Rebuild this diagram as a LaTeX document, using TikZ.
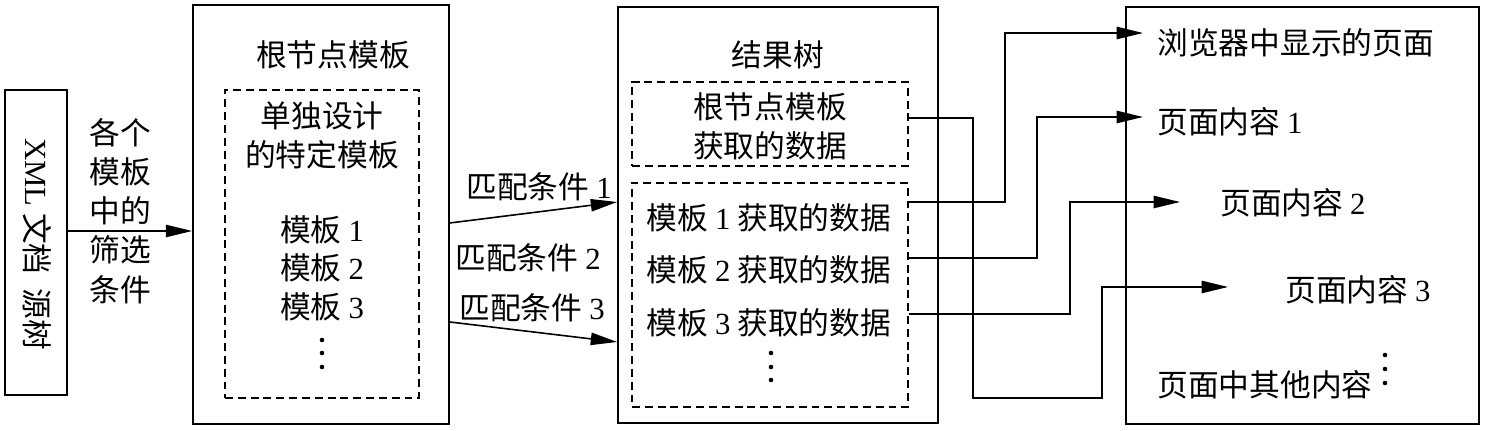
\documentclass[tikz,border=0pt]{standalone}
\usepackage{fontspec}
\setmainfont{Liberation Serif}
\newfontfamily\cjk{Noto Sans CJK SC}
\newcommand\rmnum[1]{{\rmfamily #1}}
\usetikzlibrary{arrows.meta,fit}

\begin{document}
\begin{tikzpicture}
[x=0.02cm,y=-0.02cm,
  boxdecorate/.style={draw,line width=1pt,inner sep=0pt},
  dashdecorate/.style={draw,line width=0.8pt,dash pattern=on 4.5pt off 2.8pt,inner sep=0pt},
  textdecorate/.style={inner sep=0pt,align=center,
    font=\fontsize{17.5}{22.3}\selectfont\cjk},
  linedecorate/.style={-{Triangle[length=15pt,width=7pt]},line width=0.9pt}]
\useasboundingbox (0,0) rectangle (1488,431);
%% boxes
\node (src) [boxdecorate,fit={(5,90) (67,395)}] {};
\node (root) [boxdecorate,fit={(193,5) (449,424)}] {};
\node (rootin) [dashdecorate,fit={(225,90) (419,398)}] {};
\node (result) [boxdecorate,fit={(618,7) (938,423)}] {};
\node (resA) [dashdecorate,fit={(632,82) (908,166)}] {};
\node (resB) [dashdecorate,fit={(632,183) (908,407)}] {};
\node (page) [boxdecorate,fit={(1126,7) (1479,424)}] {};
%% texts
\node (srctxt) [textdecorate,rotate=-90] at (37,244) {\rmnum{XML} 文档\ \ 源树};
\node (filter) [textdecorate] at (120,211) {各个\\模板\\中的\\筛选\\条件};
\node (roottitle) [textdecorate] at (333,55) {根节点模板};
\node (special) [textdecorate] at (322,135) {单独设计\\的特定模板};
\node (restitle) [textdecorate] at (778,55) {结果树};
\node (rootdata) [textdecorate] at (770,126) {根节点模板\\获取的数据};
\foreach \k/\ya/\yb in {1/230/218, 2/268/270, 3/307/323}
{
  \node (tpl\k) [textdecorate] at (322,\ya) {模板 \rmnum{\k}};
  \node (data\k) [textdecorate] at (769,\yb) {模板 \rmnum{\k} 获取的数据};
}
\foreach \y in {340,353,367}
  \fill (322,\y) circle (1.3pt);
\foreach \y in {353,367,380}
  \fill (771,\y) circle (1.3pt);
%% matching labels
\node (match1) [textdecorate] at (539,187) {匹配条件 \rmnum{1}};
\node (match2) [textdecorate] at (528,258) {匹配条件 \rmnum{2}};
\node (match3) [textdecorate] at (532,308) {匹配条件 \rmnum{3}};
%% page contents
\node (pg0) [textdecorate,anchor=west] at (1157,43) {浏览器中显示的页面};
\node (pg1) [textdecorate,anchor=west] at (1157,122) {页面内容 \rmnum{1}};
\node (pg2) [textdecorate,anchor=west] at (1220,203) {页面内容 \rmnum{2}};
\node (pg3) [textdecorate,anchor=west] at (1285,290) {页面内容 \rmnum{3}};
\node (pgo) [textdecorate,anchor=west] at (1157,385) {页面中其他内容};
\foreach \y in {355,369,383}
  \fill (1385,\y) circle (1.3pt);
\coordinate (tip0) at (1143,33);
\coordinate (tip1) at (1143,117);
\coordinate (tip2) at (1180,202);
\coordinate (tip3) at (1228,287);
%% edges
\draw[linedecorate] (src.east |- 0,231) -- (root.west |- 0,231);
\draw[linedecorate] (root.east |- 0,223) -- (result.west |- 0,202);
\draw[linedecorate] (root.east |- 0,322) -- (result.west |- 0,342);
\foreach \ya/\xb/\tip in {202/1005/tip0, 258/1037/tip1, 314/1070/tip2}
  \draw[linedecorate] (resB.east |- 0,\ya) -| (\xb,0 |- \tip) -- (\tip);
\draw[linedecorate] (resA.east |- 0,118) -| (973,398) -| (1102,0 |- tip3) -- (tip3);
\end{tikzpicture}
\end{document}
